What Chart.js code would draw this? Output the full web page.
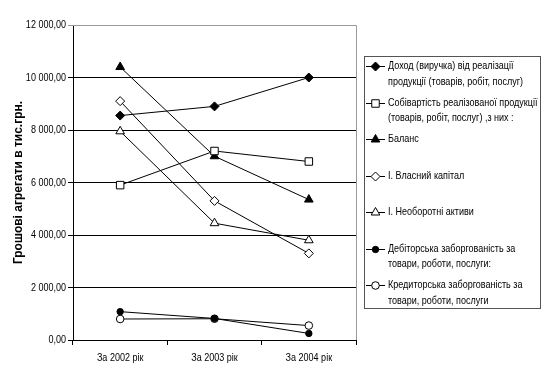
<!DOCTYPE html>
<html><head><meta charset="utf-8">
<script src="https://cdn.jsdelivr.net/npm/chart.js@4.4.1/dist/chart.umd.min.js"></script>
<style>html,body{margin:0;padding:0;background:#fff;}canvas{display:block;}</style>
</head><body>
<canvas id="c" width="541" height="384" style="width:541px;height:384px"></canvas>
<script>
const categories = ['За 2002 рік', 'За 2003 рік', 'За 2004 рік'];
const seriesLabels = [
  ['Доход (виручка) від реалізації', 'продукції (товарів, робіт, послуг)'],
  ['Собівартість реалізованої продукції', '(товарів, робіт, послуг) ,з них :'],
  ['Баланс'],
  ['І. Власний капітал'],
  ['І. Необоротні активи'],
  ['Дебіторська заборгованість за', 'товари, роботи, послуги:'],
  ['Кредиторська заборгованість за', 'товари, роботи, послуги']
];
const dohid = [8550, 8900, 10000];
const sobivartist = [5900, 7200, 6800];
const balans = [10400, 7000, 5350];
const vlasnyiKapital = [9100, 5300, 3300];
const neoborotniAktyvy = [7950, 4450, 3800];
const debitorska = [1080, 820, 250];
const kredytorska = [800, 810, 550];
const yTickValues = [0, 2000, 4000, 6000, 8000, 10000, 12000];
const yTitle = 'Грошові агрегати в тис.грн.';

const FONT = "'Liberation Sans', Arial, sans-serif";
const SQUEEZE = 0.82;
const seriesValues = [dohid, sobivartist, balans, vlasnyiKapital, neoborotniAktyvy, debitorska, kredytorska];
const styles = [
  {ps: 'rectRot', r: 4.5, fill: '#000'},
  {ps: 'rect', r: 5.3, fill: '#fff'},
  {ps: 'triangle', r: 5, fill: '#000'},
  {ps: 'rectRot', r: 4.5, fill: '#fff'},
  {ps: 'triangle', r: 5, fill: '#fff'},
  {ps: 'circle', r: 3.2, fill: '#000'},
  {ps: 'circle', r: 3.8, fill: '#fff'}
];

const datasets = seriesValues.map((vals, i) => ({
  label: seriesLabels[i].join(' '),
  data: vals,
  borderColor: '#000',
  borderWidth: 1,
  backgroundColor: styles[i].fill,
  pointStyle: styles[i].ps,
  pointRadius: styles[i].r,
  pointBorderColor: '#000',
  pointBackgroundColor: styles[i].fill,
  pointBorderWidth: 1,
  tension: 0,
  fill: false
}));

function fmt(v) {
  return String(Math.round(v)).replace(/\B(?=(\d{3})+(?!\d))/g, ' ') + ',00';
}

function narrowText(ctx, text, x, y, align) {
  ctx.save();
  ctx.translate(x, y);
  ctx.scale(SQUEEZE, 1);
  ctx.textAlign = align;
  ctx.fillText(text, 0, 0);
  ctx.restore();
}

const frame = {
  id: 'frame',
  beforeDatasetsDraw(chart) {
    const a = chart.chartArea, ctx = chart.ctx;
    ctx.save();
    ctx.strokeStyle = '#999';
    ctx.lineWidth = 1;
    ctx.beginPath();
    ctx.moveTo(a.left, a.top + 0.5);
    ctx.lineTo(Math.round(a.right) + 0.5, a.top + 0.5);
    ctx.lineTo(Math.round(a.right) + 0.5, a.bottom);
    ctx.stroke();
    ctx.restore();
  }
};

const labelsPlugin = {
  id: 'narrowLabels',
  afterDraw(chart) {
    const ctx = chart.ctx;
    const xs = chart.scales.x, ys = chart.scales.y;
    ctx.save();
    ctx.font = '11px ' + FONT;
    ctx.fillStyle = '#000';
    ctx.textBaseline = 'middle';
    ys.ticks.forEach((t, i) => narrowText(ctx, fmt(t.value), 66, ys.getPixelForValue(t.value), 'right'));
    xs.ticks.forEach((t, i) => narrowText(ctx, categories[i], xs.getPixelForTick(i), 358, 'center'));

    ctx.strokeStyle = '#555';
    ctx.lineWidth = 1;
    ctx.strokeRect(364.5, 56.5, 176, 252);
    chart.data.datasets.forEach((ds, i) => {
      const y = 66 + i * 36.5;
      ctx.strokeStyle = '#000';
      ctx.beginPath();
      ctx.moveTo(366, Math.round(y) + 0.5);
      ctx.lineTo(385, Math.round(y) + 0.5);
      ctx.stroke();
      ctx.fillStyle = ds.pointBackgroundColor;
      Chart.helpers.drawPoint(ctx, {pointStyle: ds.pointStyle, radius: ds.pointRadius, rotation: 0, borderWidth: 1}, 375.5, Math.round(y) + 0.5);
      ctx.fillStyle = '#000';
      seriesLabels[i].forEach((t, j) => narrowText(ctx, t, 388, y + j * 15.7, 'left'));
    });
    ctx.restore();
  }
};

new Chart(document.getElementById('c'), {
  type: 'line',
  data: {labels: categories, datasets},
  plugins: [frame, labelsPlugin],
  options: {
    responsive: false,
    animation: false,
    layout: {padding: {top: 25, right: 185, left: 0, bottom: 0}},
    plugins: {legend: {display: false}, tooltip: {enabled: false}},
    scales: {
      x: {
        type: 'category',
        offset: true,
        afterFit(s) { s.height = 44; },
        grid: {display: true, drawOnChartArea: false, drawTicks: true, tickLength: 5, color: '#000', offset: true},
        border: {display: true, color: '#000', width: 1},
        ticks: {display: false}
      },
      y: {
        min: 0, max: 12000,
        afterFit(s) { s.width = 73; },
        afterBuildTicks(s) { s.ticks = yTickValues.map(v => ({value: v})); },
        grid: {color: c => (c.tick && c.tick.value === 12000) ? '#999' : '#000', drawTicks: true, tickLength: 5},
        border: {display: true, color: '#000', width: 1},
        ticks: {display: false},
        title: {display: true, text: yTitle, color: '#000', font: {family: FONT, size: 12, weight: 'bold'}, padding: {top: 11, bottom: 0}}
      }
    }
  }
});
</script>
</body></html>
